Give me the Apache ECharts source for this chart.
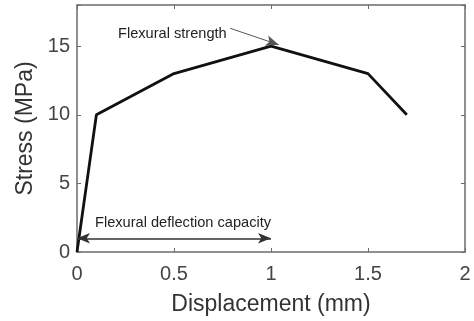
<!DOCTYPE html>
<html>
<head>
<meta charset="utf-8">
<script src="https://cdn.jsdelivr.net/npm/echarts@6/dist/echarts.min.js"></script>
<style>
  html, body { margin: 0; padding: 0; background: #fff; }
  #chart { width: 474px; height: 321px; }
</style>
</head>
<body>
<div id="chart"></div>
<script>
// Stress–displacement curve of the flexural test
const displacement = [0, 0.1, 0.5, 1.0, 1.5, 1.7];
const stress = [0, 10, 13, 15, 13, 10];
const xTicks = [0, 0.5, 1, 1.5, 2];
const yTicks = [0, 5, 10, 15];

// Annotation arrows (data coordinates)
const strengthArrow = [[0.79, 16.3], [1.04, 15.1]];
const deflectionArrow = [[0, 1], [1, 1]];

const chart = echarts.init(document.getElementById('chart'));
const font = 'Liberation Sans, Arial, sans-serif';
const boxColor = '#6b6b6b';

const curve = displacement.map((d, i) => [d, stress[i]]);

const boxAxis = {
  type: 'value',
  axisLine: { show: true, onZero: false, lineStyle: { color: boxColor, width: 1.5 } },
  axisTick: { show: true, inside: true, length: 4, lineStyle: { color: boxColor } },
  splitLine: { show: false }
};

chart.setOption({
  animation: false,
  grid: { left: 77, right: 9, top: 5, bottom: 67 },
  xAxis: [Object.assign({}, boxAxis, {
    min: 0, max: 2, interval: 0.5, position: 'bottom',
    name: 'Displacement (mm)', nameLocation: 'middle', nameGap: 41,
    nameTextStyle: { fontFamily: font, fontSize: 23, color: '#333' },
    axisLabel: { fontFamily: font, fontSize: 20, color: '#444', margin: 12,
      formatter: v => xTicks.includes(v) ? String(v) : '' }
  }), Object.assign({}, boxAxis, {
    min: 0, max: 2, interval: 0.5, position: 'top',
    axisLabel: { show: false }
  })],
  yAxis: [Object.assign({}, boxAxis, {
    min: 0, max: 18, interval: 5, position: 'left',
    name: 'Stress (MPa)', nameLocation: 'middle', nameGap: 38,
    nameTextStyle: { fontFamily: font, fontSize: 23, color: '#333' },
    axisLabel: { fontFamily: font, fontSize: 20, color: '#444', margin: 7,
      formatter: v => yTicks.includes(v) ? String(v) : '' }
  }), Object.assign({}, boxAxis, {
    min: 0, max: 18, interval: 5, position: 'right',
    axisLabel: { show: false }
  })],
  series: [{
    type: 'line',
    data: curve,
    symbol: 'none',
    lineStyle: { color: '#111', width: 2.8 },
    markLine: {
      silent: true,
      animation: false,
      label: { show: false },
      data: [
        [{ coord: strengthArrow[0], symbol: 'none',
           lineStyle: { color: '#555', width: 1, type: 'solid' } },
         { coord: strengthArrow[1], symbol: 'arrow', symbolSize: [8, 13] }],
        [{ coord: deflectionArrow[0], symbol: 'arrow', symbolSize: [8, 13],
           lineStyle: { color: '#333', width: 1.5, type: 'solid' } },
         { coord: deflectionArrow[1], symbol: 'arrow', symbolSize: [8, 13] }]
      ],
      itemStyle: { color: '#111' }
    }
  }],
  graphic: [{
    type: 'text', left: 118, top: 26,
    style: { text: 'Flexural strength', font: '14.6px ' + font, fill: '#222' }
  }, {
    type: 'text', left: 95, top: 215,
    style: { text: 'Flexural deflection capacity', font: '14.6px ' + font, fill: '#222' }
  }]
});
</script>
</body>
</html>
